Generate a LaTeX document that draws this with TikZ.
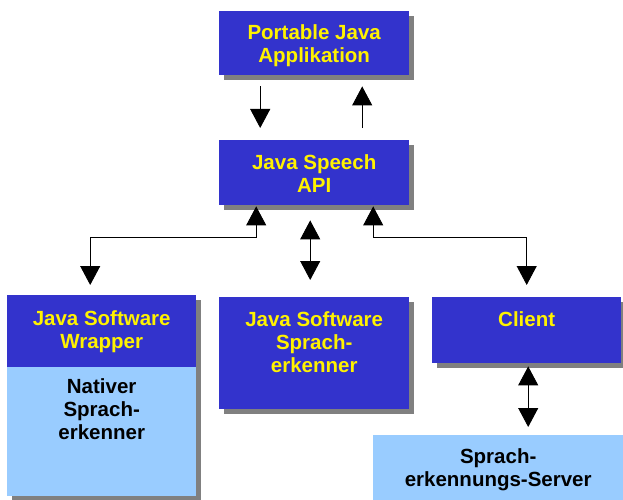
\documentclass[tikz,border=0pt]{standalone}
\usepackage{fontspec}
\setmainfont{Liberation Sans}
\usetikzlibrary{arrows.meta,shadows,calc}
\definecolor{darkblue}{HTML}{3333CC}
\definecolor{lightblue}{HTML}{99CCFF}
\definecolor{shadowgray}{HTML}{808080}
\begin{document}
\begin{tikzpicture}[x=1pt,y=1pt,
 box/.style={draw=none, inner sep=0, anchor=north west},
 shad/.style={drop shadow={shadow xshift=5pt, shadow yshift=-5pt, fill=shadowgray, opacity=1}},
 dark/.style={box, shad, fill=darkblue},
 light/.style={box, fill=lightblue},
 lbl/.style={anchor=north, inner sep=0, align=center, font=\fontsize{20.5}{23.3}\selectfont\bfseries},
 ylbl/.style={lbl, text=yellow},
 blbl/.style={lbl, text=black},
 tip/.style={Triangle[length=19pt,width=20pt]},
 arr/.style={draw=black, line width=0.9pt, -{Triangle[length=19pt,width=20pt]}},
 dbl/.style={draw=black, line width=0.9pt, {Triangle[length=19pt,width=20pt]}-{Triangle[length=19pt,width=20pt]}},
]
\useasboundingbox (0,0) rectangle (623,-500);
% boxes
\node[dark, minimum width=190, minimum height=64] (app) at (219,-11) {};
\node[dark, minimum width=190, minimum height=65] (api) at (219,-140) {};
\node[dark, minimum width=189, minimum height=72] (wraptop) at (7,-295) {};
\node[light, shad, minimum width=189, minimum height=129] (wrapbot) at (7,-367) {};
\node[dark, minimum width=190, minimum height=112] (reco) at (219,-297) {};
\node[dark, minimum width=189, minimum height=66] (client) at (432,-297) {};
\node[light, minimum width=250, minimum height=65] (server) at (373,-435) {};
% labels
\node[ylbl] (appt) at ($(app.north)+(0,-11.7)$) {\strut Portable Java\\Applikation};
\node[ylbl] (apit) at ($(api.north)+(0,-12.7)$) {\strut Java Speech\\API};
\node[ylbl] (wrapt) at ($(wraptop.north)+(0,-13.7)$) {\strut Java Software\\Wrapper};
\node[blbl] (wrapbt) at ($(wrapbot.north)+(0,-9.7)$) {\strut Nativer\\Sprach-\\erkenner};
\node[ylbl] (recot) at ($(reco.north)+(0,-12.7)$) {\strut Java Software\\Sprach-\\erkenner};
\node[ylbl] (clientt) at ($(client.north)+(0,-12.7)$) {\strut Client};
\node[blbl] (servert) at ($(server.north)+(0,-11.7)$) {\strut Sprach-\\erkennungs-Server};
% connectors
\draw[arr, shorten <=11pt, shorten >=12pt] ([xshift=-54pt]app.south) -- ([xshift=-54pt]api.north);
\draw[arr, shorten <=12pt, shorten >=11pt] ([xshift=48pt]api.north) -- ([xshift=48pt]app.south);
\draw[dbl, shorten <=1pt, shorten >=10pt] ([xshift=-58pt]api.south) -- ++(0,-32) -| ([xshift=-11.5pt]wraptop.north);
\draw[dbl, shorten <=1pt, shorten >=12pt] ([xshift=59pt]api.south) -- ++(0,-32) -| (client.north);
\draw[dbl, shorten <=15pt, shorten >=17pt] ([xshift=-4pt]api.south) -- ([xshift=-4pt]reco.north);
\draw[dbl, shorten <=3pt, shorten >=8pt] ([xshift=1.5pt]client.south) -- ([xshift=1.5pt]client.south |- server.north);
\end{tikzpicture}
\end{document}
